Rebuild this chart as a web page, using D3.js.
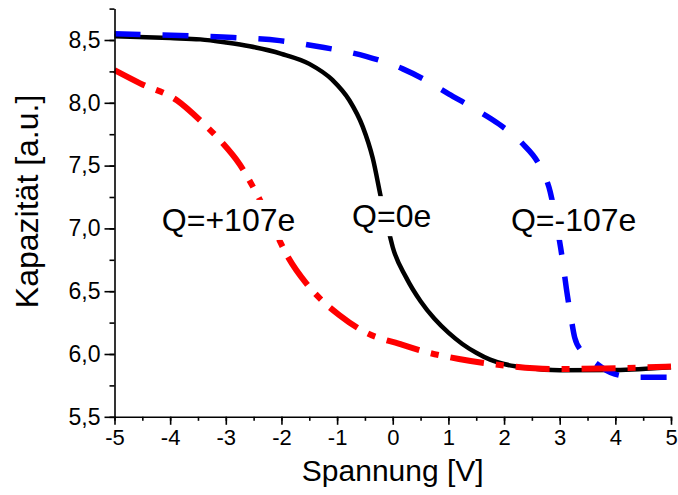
<!DOCTYPE html>
<html>
<head>
<meta charset="utf-8">
<script src="https://cdn.jsdelivr.net/npm/d3@7"></script>
<style>
  html, body { margin: 0; padding: 0; background: #fff; }
  svg { display: block; }
  text { font-family: "Liberation Sans", Arial, Helvetica, sans-serif; fill: #000; }
</style>
</head>
<body>
<svg id="chart" width="678" height="495"></svg>
<script>
// ---- data ----
const xTicks = [-5, -4, -3, -2, -1, 0, 1, 2, 3, 4, 5];
const yTicks = [5.5, 6.0, 6.5, 7.0, 7.5, 8.0, 8.5];

// Q = 0e (black solid)
const q0X = [-5, -4, -3.46, -3, -2.57, -2, -1.5, -1.08, -0.78, -0.54, -0.36, -0.2, -0.1, 0.0, 0.24, 0.5, 0.75, 1.0, 1.25, 1.5, 1.75, 2.0, 2.4, 3.0, 4.0, 5.0];
const q0Y = [8.53, 8.515, 8.505, 8.48, 8.45, 8.39, 8.31, 8.18, 8.02, 7.81, 7.56, 7.22, 7.03, 6.85, 6.61, 6.42, 6.28, 6.17, 6.08, 6.01, 5.955, 5.92, 5.89, 5.87, 5.873, 5.895];

// Q = +107e (red dash-dot)
const qPosX = [-5, -4.54, -3.88, -3.46, -3.1, -2.75, -2.45, -2.15, -1.88, -1.55, -1.28, -0.96, -0.48, 0.12, 0.65, 1.19, 1.96, 2.86, 3.81, 5.0];
const qPosY = [8.26, 8.155, 8.02, 7.86, 7.70, 7.51, 7.28, 7.01, 6.77, 6.56, 6.43, 6.31, 6.17, 6.08, 6.01, 5.96, 5.91, 5.88, 5.885, 5.90];

// Q = -107e (blue dashed)
const qNegX = [-5, -3.82, -2.87, -2.03, -1.37, -0.48, 0.18, 0.59, 1.01, 1.46, 1.91, 2.32, 2.65, 2.83, 2.95, 3.06, 3.12, 3.2, 3.27, 3.4, 3.57, 3.99, 4.41, 4.86, 5.0];
const qNegY = [8.55, 8.535, 8.52, 8.495, 8.45, 8.37, 8.27, 8.18, 8.07, 7.955, 7.83, 7.68, 7.49, 7.29, 7.02, 6.72, 6.52, 6.3, 6.13, 6.02, 5.955, 5.84, 5.815, 5.815, 5.815];

const labels = [
  { text: "Q=+107e", x: -2.95, y: 6.98 },
  { text: "Q=0e",    x: -0.02, y: 7.01 },
  { text: "Q=-107e", x:  3.25, y: 6.98 }
];

// ---- layout ----
const svg = d3.select("#chart");
const x = d3.scaleLinear().domain([-5, 5]).range([114.5, 671]);
const y = d3.scaleLinear().domain([5.5, 8.75]).range([416.8, 8.6]);

const line = d3.line().x(d => x(d[0])).y(d => y(d[1])).curve(d3.curveMonotoneX);
const zip = (a, b) => a.map((v, i) => [v, b[i]]);

const plot = svg.append("g");

plot.append("path").datum(zip(q0X, q0Y))
  .attr("d", line).attr("fill", "none")
  .attr("stroke", "#000").attr("stroke-width", 4.5);

plot.append("path").datum(zip(qNegX, qNegY))
  .attr("d", line).attr("fill", "none")
  .attr("stroke", "#0000ff").attr("stroke-width", 5.5)
  .attr("stroke-dasharray", "26,22");

plot.append("path").datum(zip(qPosX, qPosY))
  .attr("d", line).attr("fill", "none")
  .attr("stroke", "#ff0000").attr("stroke-width", 6)
  .attr("stroke-dasharray", "34,12,8,12");

// annotations with white background
labels.forEach(l => {
  const g = svg.append("g");
  const t = g.append("text")
    .attr("x", x(l.x)).attr("y", y(l.y))
    .attr("text-anchor", "middle")
    .attr("font-size", 32)
    .text(l.text);
  const b = t.node().getBBox();
  g.insert("rect", "text")
    .attr("x", b.x - 2).attr("y", b.y - 2)
    .attr("width", b.width + 4).attr("height", b.height + 4)
    .attr("fill", "#fff");
});

// ---- axes ----
const fmtY = d => d3.format(".1f")(d).replace(".", ",");
const fmtX = d => String(d);

const xMinor = d3.range(-5, 5.01, 0.5);
const yMinor = d3.range(5.5, 8.76, 0.25);

const gx = svg.append("g").attr("transform", `translate(0,${y(5.5)})`);
gx.call(d3.axisBottom(x).tickValues(xMinor).tickSize(4).tickFormat(""));
gx.call(g => g.select(".domain").remove());
const gx2 = svg.append("g").attr("transform", `translate(0,${y(5.5)})`);
gx2.call(d3.axisBottom(x).tickValues(xTicks).tickSize(8).tickPadding(5).tickFormat(fmtX).tickSizeOuter(0));

const gy = svg.append("g").attr("transform", `translate(${x(-5)},0)`);
gy.call(d3.axisLeft(y).tickValues(yMinor).tickSize(5).tickFormat(""));
gy.call(g => g.select(".domain").remove());
const gy2 = svg.append("g").attr("transform", `translate(${x(-5)},0)`);
gy2.call(d3.axisLeft(y).tickValues(yTicks).tickSize(10).tickPadding(4).tickFormat(fmtY).tickSizeOuter(0));

svg.selectAll(".domain").attr("stroke", "#000").attr("stroke-width", 1.6);
svg.selectAll(".tick line").attr("stroke", "#000").attr("stroke-width", 1.6);
gy2.selectAll(".tick text").attr("font-size", 23);
gx2.selectAll(".tick text").attr("font-size", 22);
svg.selectAll(".tick text")
  .attr("font-family", '"Liberation Sans", Arial, sans-serif').attr("fill", "#000");

// axis titles
svg.append("text")
  .attr("x", (x(-5) + x(5)) / 2).attr("y", 481)
  .attr("text-anchor", "middle").attr("font-size", 30)
  .text("Spannung [V]");

svg.append("text")
  .attr("transform", `translate(38,${y(7.0) - 27}) rotate(-90)`)
  .attr("text-anchor", "middle").attr("font-size", 32)
  .text("Kapazität [a.u.]");
</script>
</body>
</html>
